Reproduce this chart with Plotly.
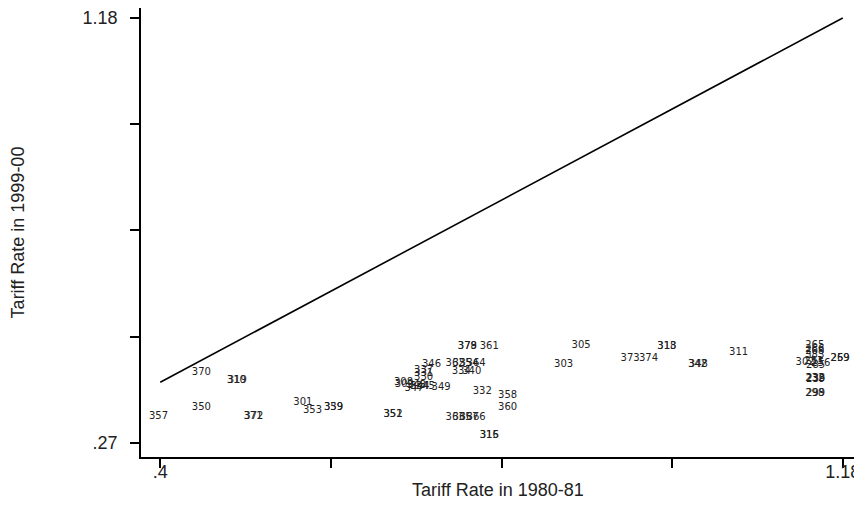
import plotly.graph_objects as go

# Industry codes and tariff rates
codes = [
    "357", "370", "350", "319", "310", "371", "372", "301", "353", "359", "339",
    "351", "352", "346", "337", "331", "330", "308", "309", "343", "344", "345",
    "349", "347", "379", "378", "361", "362", "355", "354", "364", "334", "340",
    "332", "358", "360", "363", "365", "367", "366", "315", "316", "305", "303",
    "373", "374", "313", "318", "342", "348", "311", "265", "266", "268", "383",
    "302", "253", "256", "285", "259", "269", "232", "238", "239", "298", "299",
]
tariff_1980 = [
    0.398, 0.447, 0.447, 0.488, 0.487, 0.506, 0.507, 0.563, 0.574, 0.598, 0.598,
    0.666, 0.666, 0.710, 0.701, 0.701, 0.701, 0.678, 0.679, 0.693, 0.697, 0.703,
    0.721, 0.690, 0.751, 0.751, 0.776, 0.737, 0.745, 0.753, 0.761, 0.744, 0.756,
    0.768, 0.797, 0.797, 0.737, 0.745, 0.753, 0.761, 0.776, 0.776, 0.881, 0.861,
    0.937, 0.958, 0.979, 0.979, 1.014, 1.015, 1.061, 1.148, 1.148, 1.148, 1.148,
    1.137, 1.147, 1.155, 1.149, 1.177, 1.177, 1.148, 1.149, 1.149, 1.148, 1.149,
]
tariff_1999 = [
    0.326, 0.420, 0.347, 0.403, 0.403, 0.326, 0.326, 0.356, 0.339, 0.347, 0.347,
    0.330, 0.330, 0.439, 0.426, 0.418, 0.411, 0.399, 0.396, 0.394, 0.390, 0.392,
    0.388, 0.386, 0.476, 0.476, 0.476, 0.441, 0.441, 0.441, 0.441, 0.424, 0.424,
    0.381, 0.371, 0.345, 0.324, 0.324, 0.324, 0.324, 0.285, 0.285, 0.478, 0.439,
    0.450, 0.450, 0.476, 0.476, 0.439, 0.439, 0.463, 0.478, 0.471, 0.465, 0.458,
    0.443, 0.445, 0.441, 0.435, 0.450, 0.450, 0.409, 0.409, 0.407, 0.377, 0.377,
]

# 45-degree reference line endpoints
line_vals = [0.4, 1.18]

# Axis ticks
x_tickvals = [0.4, 0.595, 0.79, 0.985, 1.18]
x_ticktext = [".4", "", "", "", "1.18"]
y_tickvals = [0.27, 0.4975, 0.725, 0.9525, 1.18]
y_ticktext = [".27", "", "", "", "1.18"]

fig = go.Figure()
fig.add_trace(go.Scatter(
    x=line_vals, y=line_vals, mode="lines",
    line=dict(color="black", width=1.6), showlegend=False, hoverinfo="skip",
))
fig.add_trace(go.Scatter(
    x=tariff_1980, y=tariff_1999, mode="text", text=codes,
    textposition="middle center",
    textfont=dict(family="DejaVu Sans", size=10, color="#222222"),
    showlegend=False,
))

axis_common = dict(
    showgrid=False, zeroline=False, showline=True, linecolor="black", linewidth=1.5,
    ticks="outside", ticklen=9, tickwidth=1.5, tickcolor="black", automargin=False,
    tickfont=dict(family="Liberation Sans", size=18, color="#222222"),
)

fig.update_layout(
    width=854, height=492,
    paper_bgcolor="white", plot_bgcolor="white",
    margin=dict(l=133, r=7, t=0, b=43),
    xaxis=dict(
        range=[0.378, 1.194], tickvals=x_tickvals, ticktext=x_ticktext,
        ticklabelstandoff=-11,
        title=dict(text="Tariff Rate in 1980-81", standoff=4,
                   font=dict(family="Liberation Sans", size=18, color="#222222")),
        **axis_common,
    ),
    yaxis=dict(
        range=[0.24, 1.2014], tickvals=y_tickvals, ticktext=y_ticktext,
        ticklabelstandoff=9,
        title=dict(text="Tariff Rate in 1999-00", standoff=55,
                   font=dict(family="Liberation Sans", size=18, color="#222222")),
        **axis_common,
    ),
)

fig.write_html("out.html")
